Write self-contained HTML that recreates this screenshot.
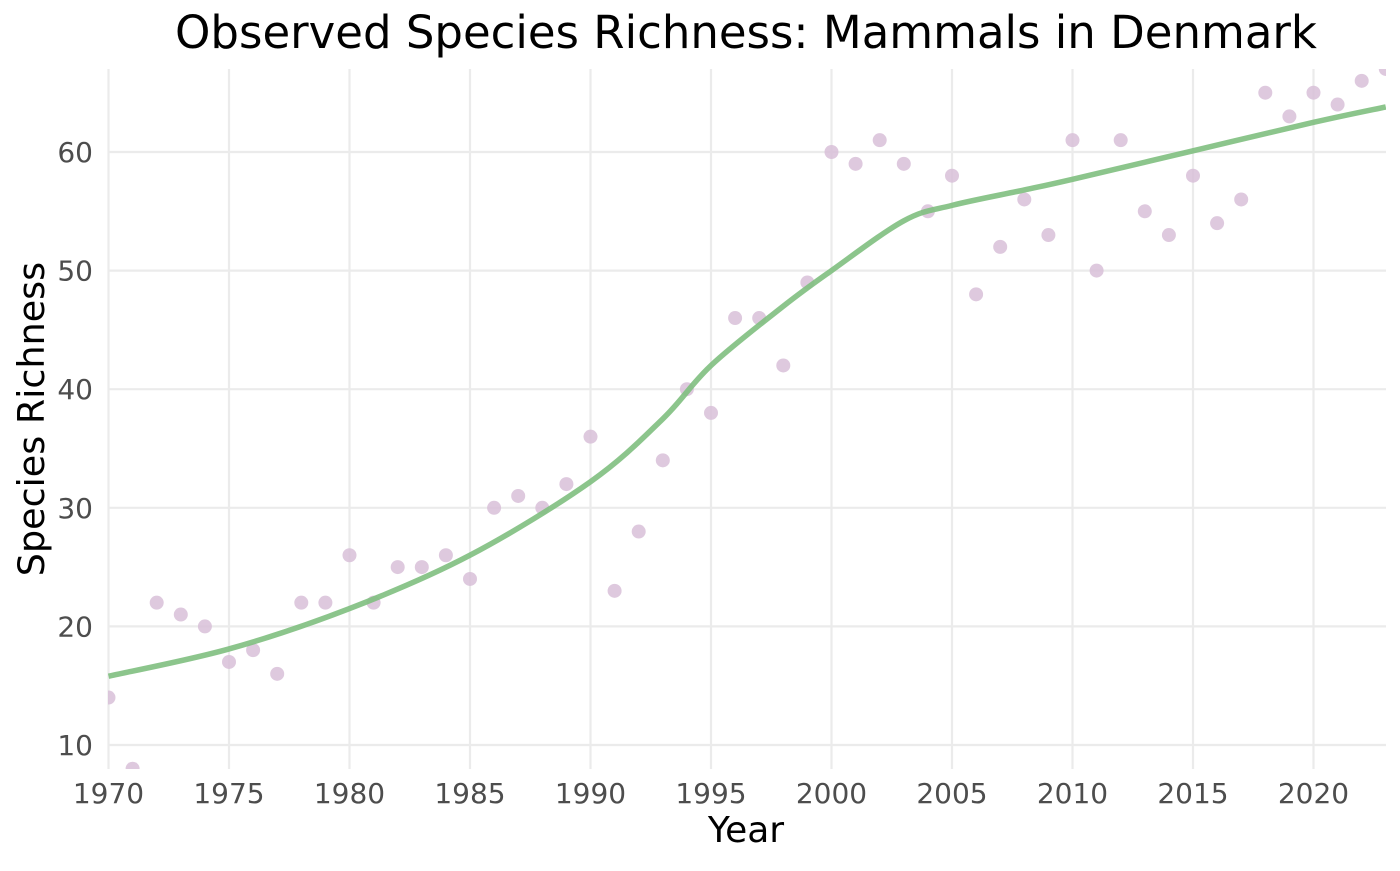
<!DOCTYPE html>
<html><head><meta charset="utf-8"><style>
html,body{margin:0;padding:0;background:#fff;}
svg text{font-family:"DejaVu Sans","Liberation Sans",sans-serif;}
</style></head><body>
<svg id="chart" width="1400" height="866" xmlns="http://www.w3.org/2000/svg">
<defs><clipPath id="clip"><rect x="108" y="69" width="1278" height="700"/></clipPath></defs>
<text x="746" y="48" text-anchor="middle" font-size="45" fill="#000">Observed Species Richness: Mammals in Denmark</text>
<g id="grid"></g>
<g id="marks" clip-path="url(#clip)"></g>
<g id="axes"></g>
<text x="746" y="842" text-anchor="middle" font-size="36" fill="#000">Year</text>
<text transform="translate(44,419) rotate(-90)" text-anchor="middle" font-size="36.5" fill="#000">Species Richness</text>
</svg>
<script>
const years=[1970,1971,1972,1973,1974,1975,1976,1977,1978,1979,1980,1981,1982,1983,1984,1985,1986,1987,1988,1989,1990,1991,1992,1993,1994,1995,1996,1997,1998,1999,2000,2001,2002,2003,2004,2005,2006,2007,2008,2009,2010,2011,2012,2013,2014,2015,2016,2017,2018,2019,2020,2021,2022,2023];
const richness=[14,8,22,21,20,17,18,16,22,22,26,22,25,25,26,24,30,31,30,32,36,23,28,34,40,38,46,46,42,49,60,59,61,59,55,58,48,52,56,53,61,50,61,55,53,58,54,56,65,63,65,64,66,67];
const smoothYears=[1970,1975,1980,1985,1990,1993,1995,1998,2000,2003,2005,2008,2010,2015,2020,2023];
const smoothVals=[15.8,18.1,21.5,26.0,32.2,37.5,42.0,47.0,50.0,54.2,55.5,56.8,57.7,60.1,62.5,63.8];
const xTicks=[1970,1975,1980,1985,1990,1995,2000,2005,2010,2015,2020];
const yTicks=[10,20,30,40,50,60];
const NS='http://www.w3.org/2000/svg';
const X=v=>108.5+(v-1970)*24.1;
const Y=v=>152-(v-60)*11.86;
function mk(t,a,p){const e=document.createElementNS(NS,t);for(const k in a)e.setAttribute(k,a[k]);p.appendChild(e);return e;}
const grid=document.getElementById('grid'),marks=document.getElementById('marks'),axes=document.getElementById('axes');
xTicks.forEach(t=>{
 const l=mk('line',{x1:X(t),x2:X(t),y1:69,y2:769,stroke:'#ebebeb','stroke-width':2.2},grid);
 
 
 const tx=mk('text',{x:X(t),y:803,'text-anchor':'middle','font-size':28,fill:'#4d4d4d'},axes);
 tx.textContent=t;
 
 
});
yTicks.forEach(t=>{
 const l=mk('line',{x1:108,x2:1386,y1:Y(t),y2:Y(t),stroke:'#ebebeb','stroke-width':2.2},grid);
 
 
 const tx=mk('text',{x:93,y:Y(t)+10,'text-anchor':'end','font-size':28,fill:'#4d4d4d'},axes);
 tx.textContent=t;
 
 
});
years.forEach((yr,i)=>{
 const c=mk('circle',{cx:X(yr),cy:Y(richness[i]),r:7,fill:'#d8bfd8','fill-opacity':0.85},marks);
 
 
});
const pts=smoothYears.map((y,i)=>[X(y),Y(smoothVals[i])]);
let d='M'+pts[0][0]+','+pts[0][1];
for(let i=0;i<pts.length-1;i++){
 const p0=pts[Math.max(0,i-1)],p1=pts[i],p2=pts[i+1],p3=pts[Math.min(pts.length-1,i+2)];
 const c1=[p1[0]+(p2[0]-p0[0])/6,p1[1]+(p2[1]-p0[1])/6],c2=[p2[0]-(p3[0]-p1[0])/6,p2[1]-(p3[1]-p1[1])/6];
 d+=` C${c1[0]},${c1[1]} ${c2[0]},${c2[1]} ${p2[0]},${p2[1]}`;
}
const path=mk('path',{d:d,fill:'none',stroke:'#7fbf7f','stroke-opacity':0.9,'stroke-width':5.5},marks);


</script>
</body></html>
